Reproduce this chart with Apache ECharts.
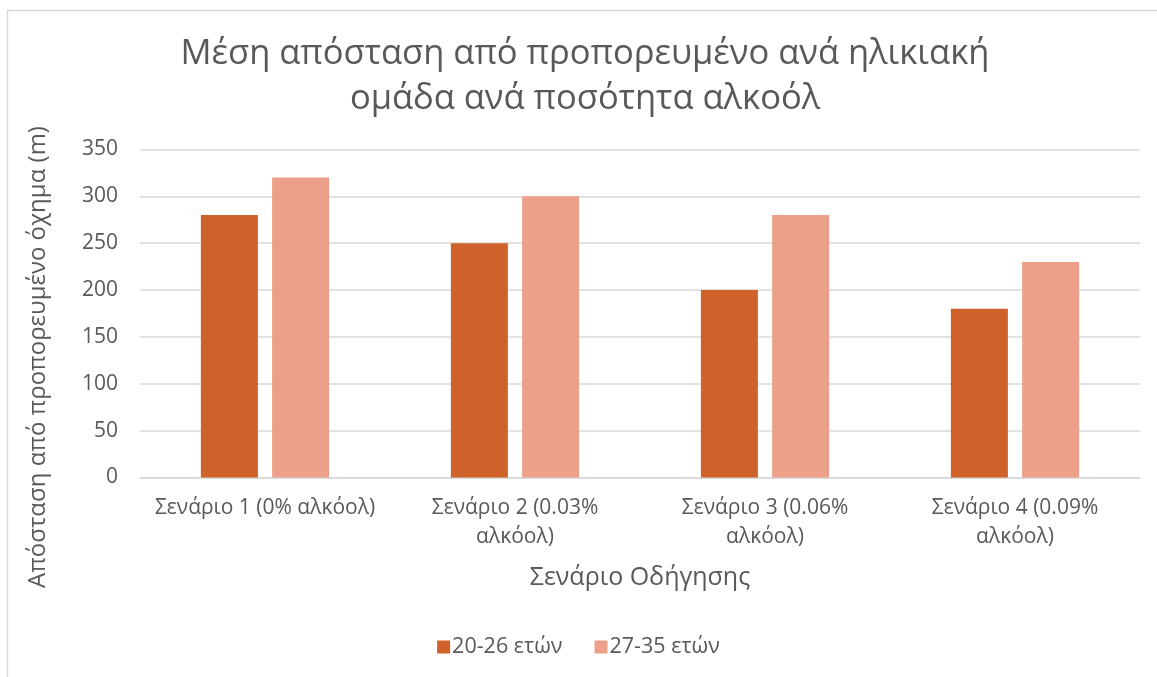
<!DOCTYPE html>
<html>
<head>
<meta charset="utf-8">
<script src="https://cdn.jsdelivr.net/npm/echarts@6/dist/echarts.min.js"></script>
<style>
  html, body { margin: 0; padding: 0; background: #fff; }
  #chart { width: 1157px; height: 677px; }
</style>
</head>
<body>
<div id="chart"></div>
<script>
// categories and values
const categories = [
  'Σενάριο 1 (0% αλκόολ)',
  'Σενάριο 2 (0.03%\nαλκόολ)',
  'Σενάριο 3 (0.06%\nαλκόολ)',
  'Σενάριο 4 (0.09%\nαλκόολ)'
];
const seriesNames = ['20-26 ετών', '27-35 ετών'];
const young = [280, 250, 200, 180];
const older = [320, 300, 280, 230];

const font = '"Open Sans", "Noto Sans", sans-serif';
const grey = '#595959';

let myChart = echarts.init(document.getElementById('chart'));
myChart.setOption({
  animation: false,
  color: ['#CE622A', '#ECA08A'],
  textStyle: { fontFamily: font, color: grey },
  title: {
    text: 'Μέση απόσταση από προπορευμένο ανά ηλικιακή\nομάδα ανά ποσότητα αλκοόλ',
    left: 580,
    textAlign: 'center',
    top: 27,
    textStyle: { fontFamily: font, fontSize: 34.5, fontWeight: 'normal', color: grey, lineHeight: 45 }
  },
  graphic: [
    {
      type: 'rect',
      shape: { x: 7.5, y: 10.5, width: 1300, height: 800 },
      style: { fill: 'none', stroke: '#d9d9d9', lineWidth: 1.5 },
      silent: true
    },
    {
      // y axis title, offset like in the original
      type: 'text',
      x: 38, y: 357,
      rotation: Math.PI / 2,
      style: {
        text: 'Απόσταση από προπορευμένο όχημα (m)',
        fontFamily: font, fontSize: 24, fill: grey,
        align: 'center', verticalAlign: 'middle'
      }
    }
  ],
  legend: {
    data: seriesNames,
    left: 'center',
    top: 631,
    itemWidth: 13,
    itemHeight: 13,
    itemGap: 32,
    icon: 'rect',
    textStyle: { fontFamily: font, fontSize: 21.5, color: grey, padding: [0, 0, 0, -3] }
  },
  grid: { left: 140, right: 17, top: 149.5, bottom: 199.5, containLabel: false },
  xAxis: {
    type: 'category',
    data: categories,
    name: 'Σενάριο Οδήγησης',
    nameLocation: 'middle',
    nameGap: 88,
    nameTextStyle: { fontFamily: font, fontSize: 25, color: grey },
    axisLine: { lineStyle: { color: '#d9d9d9', width: 1.5 } },
    axisTick: { show: false },
    axisLabel: { fontFamily: font, fontSize: 21, color: grey, margin: 16, lineHeight: 29, interval: 0 }
  },
  yAxis: {
    type: 'value',
    min: 0, max: 350, interval: 50,
    axisLine: { show: false },
    axisTick: { show: false },
    splitLine: { lineStyle: { color: '#d9d9d9', width: 1.5 } },
    axisLabel: { fontFamily: font, fontSize: 21, color: grey, margin: 22 }
  },
  series: [
    { name: seriesNames[0], type: 'bar', data: young, barWidth: '22.8%', barGap: '25%' },
    { name: seriesNames[1], type: 'bar', data: older, barWidth: '22.8%', barGap: '25%' }
  ]
});
</script>
</body>
</html>
